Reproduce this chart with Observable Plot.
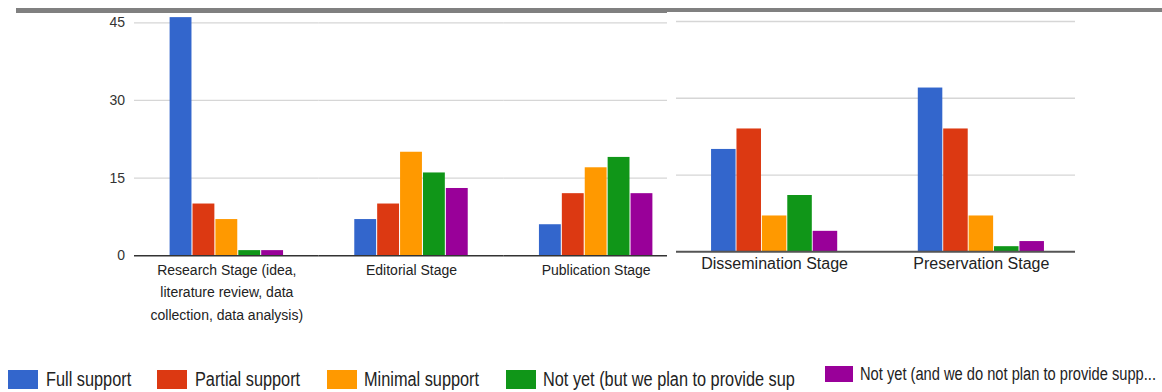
<!DOCTYPE html>
<html><head><meta charset="utf-8">
<script src="https://cdn.jsdelivr.net/npm/d3@7"></script>
<script src="https://cdn.jsdelivr.net/npm/@observablehq/plot@0.6"></script>
<style>
html,body{margin:0;padding:0;background:#fff;}
#root{position:relative;width:1162px;height:392px;overflow:hidden;font-family:"Liberation Sans",Arial,sans-serif;}
#root svg{max-width:none !important;}
#topbar{position:absolute;left:16px;top:8px;width:1146px;height:4.5px;background:#808080;}
#left{position:absolute;left:0;top:0;width:667px;height:330px;overflow:hidden;}
#right{position:absolute;left:667px;top:12px;width:495px;height:318px;background:#fff;}
#right svg{position:absolute;left:0;top:0;}
.item{position:absolute;display:flex;align-items:center;height:19px;}
.sw{width:30px;height:19px;margin-right:7.5px;flex:none;}
.tx{display:inline-block;font-size:20px;line-height:19px;transform:scaleX(0.815);transform-origin:0 50%;white-space:nowrap;color:#222;}
</style></head>
<body>
<div id="root">
  <div id="topbar"></div>
  <div id="left"></div>
  <div id="right"></div>
  <div id="legend"></div>
</div>
<script>
// ---- data ----
const stagesLeft = ["Research Stage (idea,\nliterature review, data\ncollection, data analysis)", "Editorial Stage", "Publication Stage"];
const stagesRight = ["Dissemination Stage", "Preservation Stage"];
const stages = stagesLeft.concat(stagesRight);
const series = ["Full support", "Partial support", "Minimal support", "Not yet (but we plan to provide sup", "Not yet (and we do not plan to provide supp..."];
const colors = ["#3366cc", "#dc3912", "#ff9900", "#109618", "#990099"];
const fullSupport    = [46, 7, 6, 20, 32];
const partialSupport = [10, 10, 12, 24, 24];
const minimalSupport = [7, 20, 17, 7, 7];
const notYetPlanned  = [1, 16, 19, 11, 1];
const notYetNoPlan   = [1, 13, 12, 4, 2];
const yTicks = [0, 15, 30, 45];

const valueArrays = [fullSupport, partialSupport, minimalSupport, notYetPlanned, notYetNoPlan];
const rows = [];
stages.forEach((st, j) => series.forEach((s, i) => rows.push({stage: st, series: s, value: valueArrays[i][j]})));
const leftData = rows.filter(d => stagesLeft.includes(d.stage));
const rightData = rows.filter(d => stagesRight.includes(d.stage));

const font = '"Liberation Sans", Arial, sans-serif';
const gridColor = "#d6d6d6";

// ---- left chart ----
const left = Plot.plot({
  width: 688, height: 330,
  marginLeft: 134, marginRight: 0, marginTop: 22.3, marginBottom: 74.7,
  style: {fontFamily: font, fontSize: "14px", color: "#222", background: "transparent", maxWidth: "none"},
  fx: {domain: stagesLeft, padding: 0, round: false, label: null},
  x: {domain: series, paddingInner: 0.045, paddingOuter: 1.555, round: false, axis: null},
  y: {domain: [0, 45], axis: null},
  color: {domain: series, range: colors},
  marks: [
    Plot.ruleY(yTicks.filter(t => t > 0), {stroke: gridColor, strokeWidth: 1.3}),
    Plot.barY(leftData, {fx: "stage", x: "series", y: "value", fill: "series"}),
    Plot.ruleY([0], {stroke: "#333", strokeWidth: 1.6}),
    Plot.axisY({ticks: yTicks, tickSize: 0, tickPadding: 9.5, fontSize: 14, fill: "#333", label: null}),
    Plot.axisFx({anchor: "bottom", tickSize: 0, tickPadding: 3, fontSize: 14, lineHeight: 1.6, fill: "#222", label: null})
  ]
});
document.getElementById("left").appendChild(left);

// ---- right chart (three layers: grid, bars, baseline) ----
const rightDims = {width: 495, height: 318, marginLeft: 11, marginRight: 85, marginTop: 9, marginBottom: 78.7};
const rightGrid = Plot.plot({
  ...rightDims,
  style: {background: "transparent", maxWidth: "none"},
  x: {axis: null},
  y: {domain: [0, 45], axis: null},
  marks: [
    Plot.ruleY(yTicks.filter(t => t > 0), {stroke: gridColor, strokeWidth: 1.3, insetLeft: -2, insetRight: 2})
  ]
});
const rightBars = Plot.plot({
  ...rightDims,
  style: {fontFamily: font, fontSize: "16px", color: "#222", background: "transparent", maxWidth: "none"},
  fx: {domain: stagesRight, paddingInner: 0.1, paddingOuter: 0.015, round: false, label: null},
  x: {domain: series, paddingInner: 0.035, paddingOuter: 1.179, round: false, axis: null},
  y: {domain: [0, 45], axis: null},
  color: {domain: series, range: colors},
  marks: [
    Plot.barY(rightData, {fx: "stage", x: "series", y: "value", fill: "series"}),
    Plot.axisFx({anchor: "bottom", tickSize: 0, tickPadding: 6, fontSize: 16, fill: "#222", label: null})
  ]
});
const rightBase = Plot.plot({
  ...rightDims,
  style: {background: "transparent", maxWidth: "none"},
  x: {axis: null},
  y: {domain: [0, 45], axis: null},
  marks: [
    Plot.ruleY([0], {stroke: "#555", strokeWidth: 2, insetLeft: -2, insetRight: 2})
  ]
});
const rightDiv = document.getElementById("right");
rightDiv.appendChild(rightGrid);
rightDiv.appendChild(rightBars);
rightDiv.appendChild(rightBase);

// ---- legend ----
const legend = document.getElementById("legend");
let x = 8.3;
series.forEach((s, i) => {
  const item = document.createElement("div");
  item.className = "item";
  const sw = document.createElement("div");
  sw.className = "sw";
  sw.style.background = colors[i];
  const tx = document.createElement("span");
  tx.className = "tx";
  tx.textContent = s;
  item.appendChild(sw);
  item.appendChild(tx);
  legend.appendChild(item);
  if (i < 4) {
    item.style.left = x + "px";
    item.style.top = "369.5px";
    const w = tx.getBoundingClientRect().width;
    x += 30 + 7.5 + w + 26.5;
  } else {
    item.style.left = "825px";
    item.style.top = "366px";
    item.style.height = "16px";
    sw.style.width = "28px";
    sw.style.height = "16px";
    sw.style.marginRight = "7px";
    tx.style.fontSize = "18px";
    tx.style.lineHeight = "16px";
    tx.style.transform = "none";
    const w0 = tx.getBoundingClientRect().width;
    tx.style.transform = "scaleX(" + (296 / w0) + ")";
  }
});
</script>
</body></html>
